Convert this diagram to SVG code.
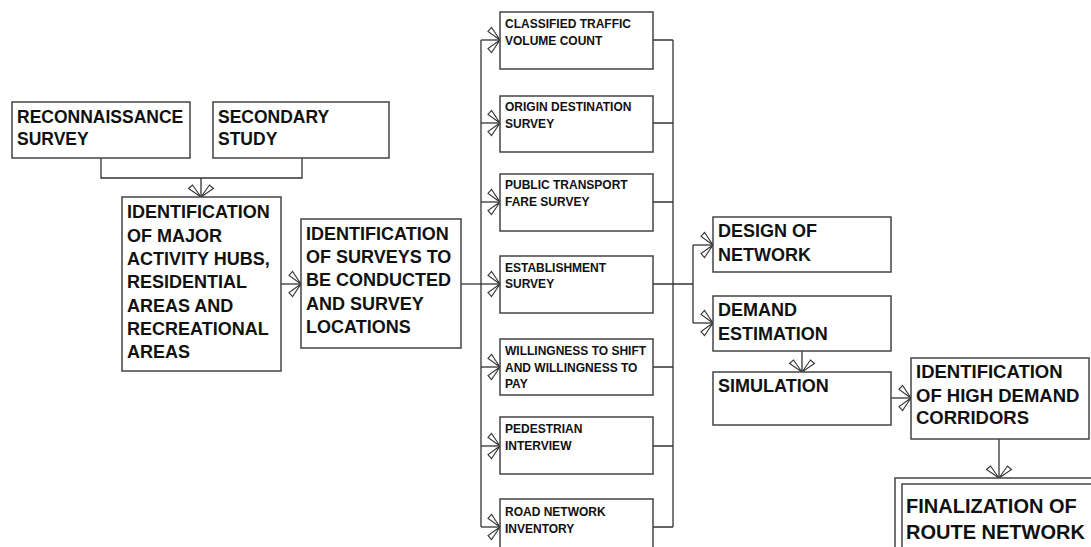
<svg xmlns="http://www.w3.org/2000/svg" width="1091" height="547" viewBox="0 0 1091 547">
  <style>
    .box { fill: #ffffff; stroke: #444444; stroke-width: 1.5; }
    .wire { fill: none; stroke: #333333; stroke-width: 1.3; }
    .t { font-family: "Liberation Sans", Arial, sans-serif; font-weight: bold; fill: #111111; }
    .big { font-size: 18px; }
    .sm { font-size: 12px; }
    .xl { font-size: 20px; }
  </style>
  <defs>
    <marker id="open" viewBox="-15 -15 17 30" markerWidth="17" markerHeight="30" refX="0" refY="0" orient="auto" markerUnits="userSpaceOnUse">
      <polygon points="0,0 -12,-8.5 -8.5,-12.5" fill="#ffffff" stroke="#333333" stroke-width="1.1"/>
      <polygon points="0,0 -12,8.5 -8.5,12.5" fill="#ffffff" stroke="#333333" stroke-width="1.1"/>
    </marker>
  </defs>

  <rect width="1091" height="547" fill="#ffffff"/>

  <!-- connectors -->
  <g id="connectors">
    <path class="wire" d="M101,158 V178 H302 V158"/>
    <path class="wire" d="M201,178 V197" marker-end="url(#open)"/>
    <path class="wire" d="M281,284 H301" marker-end="url(#open)"/>
    <path class="wire" d="M461,284 H481"/>
    <path class="wire" d="M481,40 V527"/>
    <path class="wire" d="M481,40 H500" marker-end="url(#open)"/>
    <path class="wire" d="M481,123 H500" marker-end="url(#open)"/>
    <path class="wire" d="M481,202 H500" marker-end="url(#open)"/>
    <path class="wire" d="M481,284 H500" marker-end="url(#open)"/>
    <path class="wire" d="M481,367 H500" marker-end="url(#open)"/>
    <path class="wire" d="M481,446 H500" marker-end="url(#open)"/>
    <path class="wire" d="M481,527 H500" marker-end="url(#open)"/>
    <path class="wire" d="M653,40 H673 M653,123 H673 M653,202 H673 M653,284 H673 M653,367 H673 M653,446 H673 M653,527 H673"/>
    <path class="wire" d="M673,40 V527"/>
    <path class="wire" d="M673,284 H693 M693,245 V323"/>
    <path class="wire" d="M693,245 H713" marker-end="url(#open)"/>
    <path class="wire" d="M693,323 H713" marker-end="url(#open)"/>
    <path class="wire" d="M802,351 V372" marker-end="url(#open)"/>
    <path class="wire" d="M891,398 H911" marker-end="url(#open)"/>
    <path class="wire" d="M999,439 V478" marker-end="url(#open)"/>
  </g>

  <g id="reconnaissance">
    <rect class="box" x="12" y="102" width="178" height="56"/>
    <text class="t" font-size="17.5" x="17" y="123">RECONNAISSANCE</text>
    <text class="t" font-size="17.5" x="17" y="145">SURVEY</text>
  </g>

  <g id="secondary">
    <rect class="box" x="213" y="102" width="176" height="56"/>
    <text class="t" font-size="17.5" x="218" y="123">SECONDARY</text>
    <text class="t" font-size="17.5" x="218" y="145">STUDY</text>
  </g>

  <g id="hubs">
    <rect class="box" x="122" y="197" width="159" height="174"/>
    <text class="t big" x="127" y="218">IDENTIFICATION</text>
    <text class="t big" x="127" y="242">OF MAJOR</text>
    <text class="t big" x="127" y="265">ACTIVITY HUBS,</text>
    <text class="t big" x="127" y="288">RESIDENTIAL</text>
    <text class="t big" x="127" y="312">AREAS AND</text>
    <text class="t big" x="127" y="335">RECREATIONAL</text>
    <text class="t big" x="127" y="358">AREAS</text>
  </g>

  <g id="surveys">
    <rect class="box" x="301" y="219" width="160" height="129"/>
    <text class="t big" x="306" y="240">IDENTIFICATION</text>
    <text class="t big" x="306" y="263">OF SURVEYS TO</text>
    <text class="t big" x="306" y="286">BE CONDUCTED</text>
    <text class="t big" x="306" y="310">AND SURVEY</text>
    <text class="t big" x="306" y="333">LOCATIONS</text>
  </g>

  <g id="traffic-count">
    <rect class="box" x="500" y="12" width="153" height="57"/>
    <text class="t sm" x="505" y="28">CLASSIFIED TRAFFIC</text>
    <text class="t sm" x="505" y="45">VOLUME COUNT</text>
  </g>

  <g id="origin-destination">
    <rect class="box" x="500" y="96" width="153" height="56"/>
    <text class="t sm" x="505" y="111">ORIGIN DESTINATION</text>
    <text class="t sm" x="505" y="128">SURVEY</text>
  </g>

  <g id="fare-survey">
    <rect class="box" x="500" y="174" width="153" height="57"/>
    <text class="t sm" x="505" y="189">PUBLIC TRANSPORT</text>
    <text class="t sm" x="505" y="206">FARE SURVEY</text>
  </g>

  <g id="establishment">
    <rect class="box" x="500" y="256" width="153" height="57"/>
    <text class="t sm" x="505" y="272">ESTABLISHMENT</text>
    <text class="t sm" x="505" y="288">SURVEY</text>
  </g>

  <g id="willingness">
    <rect class="box" x="500" y="339" width="153" height="56"/>
    <text class="t sm" x="505" y="355">WILLINGNESS TO SHIFT</text>
    <text class="t sm" x="505" y="372">AND WILLINGNESS TO</text>
    <text class="t sm" x="505" y="388">PAY</text>
  </g>

  <g id="pedestrian">
    <rect class="box" x="500" y="417" width="153" height="57"/>
    <text class="t sm" x="505" y="433">PEDESTRIAN</text>
    <text class="t sm" x="505" y="450">INTERVIEW</text>
  </g>

  <g id="road-inventory">
    <rect class="box" x="500" y="499" width="153" height="60"/>
    <text class="t sm" x="505" y="516">ROAD NETWORK</text>
    <text class="t sm" x="505" y="533">INVENTORY</text>
  </g>

  <g id="design">
    <rect class="box" x="713" y="217" width="178" height="55"/>
    <text class="t big" x="718" y="237">DESIGN OF</text>
    <text class="t big" x="718" y="261">NETWORK</text>
  </g>

  <g id="demand">
    <rect class="box" x="713" y="296" width="178" height="55"/>
    <text class="t big" x="718" y="316">DEMAND</text>
    <text class="t big" x="718" y="340">ESTIMATION</text>
  </g>

  <g id="simulation">
    <rect class="box" x="713" y="372" width="178" height="53"/>
    <text class="t big" x="718" y="392">SIMULATION</text>
  </g>

  <g id="corridors">
    <rect class="box" x="911" y="358" width="178" height="81"/>
    <text class="t" font-size="18.5" x="916" y="378">IDENTIFICATION</text>
    <text class="t" font-size="18.5" x="916" y="402">OF HIGH DEMAND</text>
    <text class="t" font-size="18.5" x="916" y="424">CORRIDORS</text>
  </g>

  <g id="finalization">
    <rect class="box" x="895" y="478" width="210" height="90"/>
    <rect class="box" x="902" y="484" width="200" height="80"/>
    <text class="t xl" x="906" y="513">FINALIZATION OF</text>
    <text class="t xl" x="906" y="539">ROUTE NETWORK</text>
  </g>
</svg>
